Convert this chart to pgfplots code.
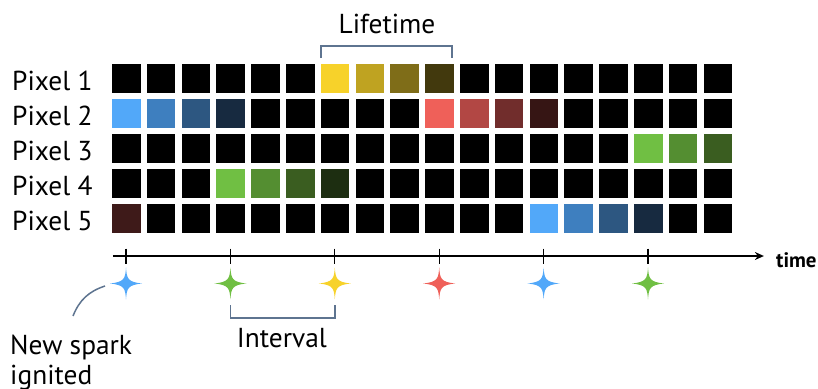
\documentclass[border=0pt]{standalone}
\usepackage{pgfplots}
\pgfplotsset{compat=1.18}
\usepackage{pgfplotstable}
\usepackage{fontspec}
\setmainfont{PT Sans}
\usetikzlibrary{arrows.meta}

\definecolor{cY1}{HTML}{F7D22A}
\definecolor{cY2}{HTML}{BFA321}
\definecolor{cY3}{HTML}{7F6D18}
\definecolor{cY4}{HTML}{42390D}
\definecolor{cB1}{HTML}{52A8F9}
\definecolor{cB2}{HTML}{3E7FBF}
\definecolor{cB3}{HTML}{2D5781}
\definecolor{cB4}{HTML}{172A40}
\definecolor{cR1}{HTML}{EF6059}
\definecolor{cR2}{HTML}{B24744}
\definecolor{cR3}{HTML}{712D2C}
\definecolor{cR4}{HTML}{361514}
\definecolor{cR5}{HTML}{3E1A19}
\definecolor{cG1}{HTML}{70BF43}
\definecolor{cG2}{HTML}{548E31}
\definecolor{cG3}{HTML}{3A5D20}
\definecolor{cG4}{HTML}{1D2E11}
\definecolor{brk}{HTML}{5E7490}

\pgfdeclareplotmark{spark}{%
  \pgfpathmoveto{\pgfqpoint{0bp}{16bp}}%
  \pgfpathcurveto{\pgfqpoint{0.8bp}{5bp}}{\pgfqpoint{1.5bp}{1.5bp}}{\pgfqpoint{16bp}{0bp}}%
  \pgfpathcurveto{\pgfqpoint{1.5bp}{-1.5bp}}{\pgfqpoint{0.8bp}{-5bp}}{\pgfqpoint{0bp}{-16bp}}%
  \pgfpathcurveto{\pgfqpoint{-0.8bp}{-5bp}}{\pgfqpoint{-1.5bp}{-1.5bp}}{\pgfqpoint{-16bp}{0bp}}%
  \pgfpathcurveto{\pgfqpoint{-1.5bp}{1.5bp}}{\pgfqpoint{-0.8bp}{5bp}}{\pgfqpoint{0bp}{16bp}}%
  \pgfpathclose
  \pgfusepathqfill}

% Grid of cells: x = time step, y = pixel row, c = colour class
\pgfplotstableread[row sep=\\]{
x y c\\
0 1 k\\ 1 1 k\\ 2 1 k\\ 3 1 k\\ 4 1 k\\ 5 1 k\\ 6 1 Y1\\ 7 1 Y2\\ 8 1 Y3\\ 9 1 Y4\\ 10 1 k\\ 11 1 k\\ 12 1 k\\ 13 1 k\\ 14 1 k\\ 15 1 k\\ 16 1 k\\ 17 1 k\\
0 2 B1\\ 1 2 B2\\ 2 2 B3\\ 3 2 B4\\ 4 2 k\\ 5 2 k\\ 6 2 k\\ 7 2 k\\ 8 2 k\\ 9 2 R1\\ 10 2 R2\\ 11 2 R3\\ 12 2 R4\\ 13 2 k\\ 14 2 k\\ 15 2 k\\ 16 2 k\\ 17 2 k\\
0 3 k\\ 1 3 k\\ 2 3 k\\ 3 3 k\\ 4 3 k\\ 5 3 k\\ 6 3 k\\ 7 3 k\\ 8 3 k\\ 9 3 k\\ 10 3 k\\ 11 3 k\\ 12 3 k\\ 13 3 k\\ 14 3 k\\ 15 3 G1\\ 16 3 G2\\ 17 3 G3\\
0 4 k\\ 1 4 k\\ 2 4 k\\ 3 4 G1\\ 4 4 G2\\ 5 4 G3\\ 6 4 G4\\ 7 4 k\\ 8 4 k\\ 9 4 k\\ 10 4 k\\ 11 4 k\\ 12 4 k\\ 13 4 k\\ 14 4 k\\ 15 4 k\\ 16 4 k\\ 17 4 k\\
0 5 R5\\ 1 5 k\\ 2 5 k\\ 3 5 k\\ 4 5 k\\ 5 5 k\\ 6 5 k\\ 7 5 k\\ 8 5 k\\ 9 5 k\\ 10 5 k\\ 11 5 k\\ 12 5 B1\\ 13 5 B2\\ 14 5 B3\\ 15 5 B4\\ 16 5 k\\ 17 5 k\\
}\cells

% Sparks ignited
\pgfplotstableread[row sep=\\]{
x y c\\
0 6.871 B\\
3 6.871 G\\
6 6.871 Y\\
9 6.871 R\\
12 6.871 B\\
15 6.871 G\\
}\sparks

\begin{document}
\begin{tikzpicture}
\begin{axis}[
  name=ax,
  scale only axis,
  width=818bp, height=389bp,
  xmin=-3.621, xmax=19.885,
  ymin=-1.229, ymax=9.886,
  y dir=reverse,
  hide axis,
  clip=false,
]
\addplot[scatter, only marks, mark=square*, mark size=13.8bp,
  point meta=explicit symbolic,
  scatter/classes={
    k={black}, Y1={cY1}, Y2={cY2}, Y3={cY3}, Y4={cY4},
    B1={cB1}, B2={cB2}, B3={cB3}, B4={cB4},
    R1={cR1}, R2={cR2}, R3={cR3}, R4={cR4}, R5={cR5},
    G1={cG1}, G2={cG2}, G3={cG3}, G4={cG4}}]
  table[x=x, y=y, meta=c]{\cells};

% time axis
\draw[line width=1.3bp, -{Stealth[length=9bp,width=8bp]}] (axis cs:-0.374,6.086) -- (axis cs:18.33,6.086);
\addplot[only marks, mark=|, mark size=7.5bp, line width=1.2bp, black]
  coordinates {(0,6.086) (3,6.086) (6,6.086) (9,6.086) (12,6.086) (15,6.086)};

\addplot[scatter, only marks, mark=spark,
  point meta=explicit symbolic,
  scatter/classes={B={cB1}, G={cG1}, Y={cY1}, R={cR1}}]
  table[x=x, y=y, meta=c]{\sparks};

% row labels
\foreach \r in {1,...,5} {
  \edef\tmp{\noexpand\node[anchor=base west, inner sep=0pt, font=\noexpand\fontsize{27.5}{32}\noexpand\selectfont]
    at (axis cs:-3.276,\r+0.363) {Pixel \r};}
  \tmp
}

% lifetime bracket
\draw[brk, line width=1.5bp] (axis cs:5.603,0.4286) -- (axis cs:5.603,0.0857) -- (axis cs:9.368,0.0857) -- (axis cs:9.368,0.4286);
\node[anchor=base, inner sep=0pt, font=\fontsize{27.5}{32}\selectfont] at (axis cs:7.5,-0.286) {Lifetime};

% interval bracket
\draw[brk, line width=1.5bp] (axis cs:3,7.486) -- (axis cs:3,7.857) -- (axis cs:6,7.857) -- (axis cs:6,7.486);
\node[anchor=base, inner sep=0pt, font=\fontsize{27.5}{32}\selectfont] at (axis cs:4.48,8.714) {Interval};

% new spark annotation
\draw[brk, line width=1.5bp] (axis cs:-1.523,7.8) to[bend left=25] (axis cs:-0.603,6.943);
\node[anchor=base west, inner sep=0pt, font=\fontsize{27.5}{32}\selectfont] at (axis cs:-3.333,8.886) {New spark};
\node[anchor=base west, inner sep=0pt, font=\fontsize{27.5}{32}\selectfont] at (axis cs:-3.333,9.743) {ignited};

\node[anchor=base west, inner sep=0pt, font=\fontsize{21}{25}\selectfont\bfseries] at (axis cs:18.678,6.4) {time};
\end{axis}
\pgfresetboundingbox
\path (ax.south west) rectangle (ax.north east);
\end{tikzpicture}
\end{document}
